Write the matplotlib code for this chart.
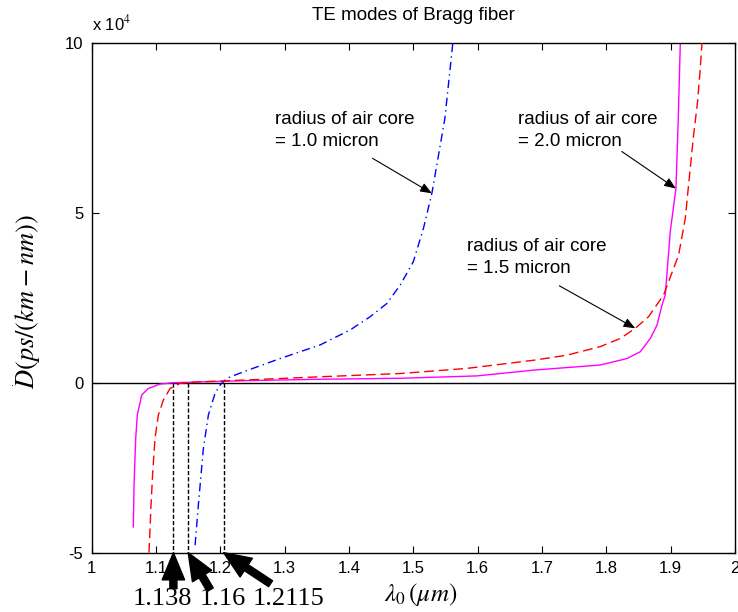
import matplotlib
matplotlib.use("Agg")
import matplotlib.pyplot as plt

# ---------------- data (dispersion in units of 1e4 ps/(km-nm)) ----------------
# radius of air core = 1.0 micron (blue, dash-dot)
r10_x = [1.1607, 1.1658, 1.1736, 1.1814, 1.1918, 1.1995, 1.2100, 1.2358, 1.2928,
         1.3550, 1.4017, 1.4328, 1.4588, 1.4795, 1.5000, 1.5157, 1.5288, 1.5490, 1.5614]
r10_y = [-4.78, -3.60, -1.93, -0.95, -0.31, -0.07, 0.13, 0.32, 0.71,
         1.11, 1.55, 1.94, 2.33, 2.87, 3.56, 4.54, 5.57, 7.77, 10.0]

# radius of air core = 1.5 micron (red, dashed)
r15_x = [1.0891, 1.0922, 1.0949, 1.0984, 1.1036, 1.1114, 1.1218, 1.1373, 1.1600,
         1.2400, 1.3500, 1.4795, 1.5830, 1.6868, 1.7387, 1.7905, 1.8216, 1.8450,
         1.8656, 1.8890, 1.9045, 1.9123, 1.9227, 1.9278, 1.9356, 1.9418, 1.9460, 1.9487]
r15_y = [-5.00, -3.60, -2.62, -1.64, -0.95, -0.51, -0.17, -0.02, 0.02,
         0.08, 0.17, 0.27, 0.42, 0.66, 0.81, 1.06, 1.30, 1.60,
         1.94, 2.58, 3.36, 3.75, 4.83, 5.81, 7.28, 8.26, 9.24, 10.0]

# radius of air core = 2.0 micron (magenta, solid)
r20_x = [1.0647, 1.0658, 1.0684, 1.0709, 1.0778, 1.0880, 1.1062, 1.1270, 1.2400,
         1.3500, 1.4795, 1.5990, 1.6868, 1.7905, 1.8320, 1.8527, 1.8683, 1.8787,
         1.8865, 1.8916, 1.8994, 1.9082, 1.9118, 1.9150]
r20_y = [-4.24, -3.01, -1.64, -0.95, -0.36, -0.17, -0.04, 0.00, 0.06,
         0.10, 0.13, 0.20, 0.37, 0.52, 0.71, 0.91, 1.30, 1.69,
         2.28, 2.58, 4.45, 5.71, 7.77, 10.0]

cutoff_x = [1.127, 1.150, 1.205]
cutoff_labels = ['1.138', '1.16', '1.2115']

x_ticks = [1, 1.1, 1.2, 1.3, 1.4, 1.5, 1.6, 1.7, 1.8, 1.9, 2]
x_tick_labels = ['1', '1.1', '1.2', '1.3', '1.4', '1.5', '1.6', '1.7', '1.8', '1.9', '2']
y_ticks = [-5, 0, 5, 10]
y_tick_labels = ['-5', '0', '5', '10']

# ---------------- figure ----------------
plt.rcParams['font.family'] = ['Liberation Sans', 'DejaVu Sans']
plt.rcParams['mathtext.fontset'] = 'stix'

W, H = 738, 612
fig = plt.figure(figsize=(W / 100, H / 100), dpi=100)
ax = fig.add_axes([91.7 / W, (H - 552.7) / H, (735 - 91.7) / W, 510 / H])

ax.set_xlim(1, 2)
ax.set_ylim(-5, 10)

ax.axhline(0, color='black', lw=1.0, zorder=1)

ax.plot(r10_x, r10_y, color='#0000ff', lw=1.0, dashes=(6, 3, 1, 3), zorder=3)
ax.plot(r15_x, r15_y, color='#ff0000', lw=1.0, dashes=(7, 3.5), zorder=3)
ax.plot(r20_x, r20_y, color='#ff00ff', lw=1.0, zorder=2)

for cx in cutoff_x:
    ax.plot([cx, cx], [0, -5], color='black', lw=1.0, dashes=(3, 1.5), zorder=2)

ax.set_xticks(x_ticks)
ax.set_xticklabels(x_tick_labels)
ax.set_yticks(y_ticks)
ax.set_yticklabels(y_tick_labels)
ax.tick_params(direction='in', length=5, width=0.8, labelsize=12,
               top=True, right=True, pad=6)
for s in ax.spines.values():
    s.set_linewidth(1.0)

fig.text(413 / W, 1 - 16 / H, 'TE modes of Bragg fiber', fontsize=13.5,
         ha='center', va='center')
ax.text(0.0, 1.018, r'x 10$^{4}$', transform=ax.transAxes, fontsize=12,
        ha='left', va='bottom')

fig.text(421 / W, 1 - 595 / H, r'$\lambda_0\,(\mu m)$', fontsize=18,
         ha='center', va='center')
fig.text(28 / W, 1 - 302 / H, r'$D(ps/(km-nm))$', fontsize=19,
         rotation=90, ha='center', va='center')
fig.text(12 / W, 1 - 383 / H, '.', fontsize=8, ha='center', va='center')

# curve annotations
arrow_kw = dict(arrowstyle='-|>,head_length=0.7,head_width=0.28',
                color='black', lw=0.8, shrinkA=0, shrinkB=0)
txt_kw = dict(fontsize=13.5, ha='left', va='top', linespacing=1.4)
ax.annotate('radius of air core\n= 1.0 micron', xy=(1.5288, 5.57),
            xytext=(1.2850, 8.0), **txt_kw)
ax.annotate('', xy=(1.5288, 5.57), xytext=(1.4365, 6.60), arrowprops=arrow_kw)
ax.annotate('radius of air core\n= 2.0 micron', xy=(1.9082, 5.71),
            xytext=(1.6630, 8.0), **txt_kw)
ax.annotate('', xy=(1.9082, 5.71), xytext=(1.824, 6.80), arrowprops=arrow_kw)
ax.annotate('radius of air core\n= 1.5 micron', xy=(1.845, 1.60),
            xytext=(1.5830, 4.25), **txt_kw)
ax.annotate('', xy=(1.845, 1.60), xytext=(1.727, 2.85), arrowprops=arrow_kw)

# cutoff arrows below axis
tail_offsets = [(0, -36), (22, -37), (47, -31)]
label_offsets = [(-11, -46), (35, -46), (65, -46)]
big_arrow = dict(arrowstyle='simple,head_length=1.15,head_width=0.95,tail_width=0.3',
                 color='black', shrinkA=0, shrinkB=0, mutation_scale=17)
for cx, lab, to, lo in zip(cutoff_x, cutoff_labels, tail_offsets, label_offsets):
    ax.annotate('', xy=(cx, -5), xytext=to, textcoords='offset pixels',
                arrowprops=big_arrow, annotation_clip=False)
    ax.annotate(lab, xy=(cx, -5), xytext=lo, textcoords='offset pixels',
                fontsize=19, family=['Liberation Serif', 'DejaVu Serif'],
                ha='center', va='center', annotation_clip=False)

fig.savefig('out.png', dpi=100)
